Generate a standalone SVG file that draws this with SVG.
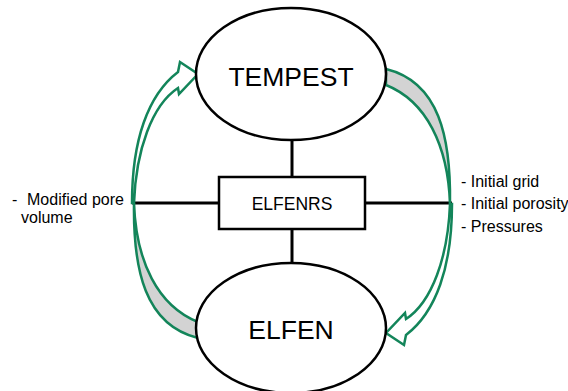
<svg xmlns="http://www.w3.org/2000/svg" width="568" height="391" viewBox="0 0 568 391">
<style>
.node{fill:#fff;stroke:#000;stroke-width:2.5}
.ln{stroke:#000;stroke-width:3;fill:none}
.arr{stroke:#13855a;stroke-width:2.5;stroke-linejoin:miter}
.front{fill:#fff}
.back{fill:#d3d3d3}
text{font-family:"Liberation Sans",Arial,sans-serif;fill:#000}
</style>
<rect width="568" height="391" fill="#fff"/>
<g id="connectors">
<line class="ln" x1="292" y1="140" x2="292" y2="177"/>
<line class="ln" x1="292" y1="229" x2="292" y2="263"/>
<line class="ln" x1="132" y1="203" x2="219" y2="203"/>
<line class="ln" x1="365" y1="203" x2="452" y2="203"/>
</g>
<g id="arrow-left">
<path class="arr back" d="M198,322 C158,306 136,262 134,203 C133,270 145,325 198,338 Z"/>
<path class="arr front" d="M132,203 C132,140 148,95 178,72 L180,62 L198,74 L179,94 L178,88 C152,105 136,150 134,203 Z"/>
</g>
<g id="arrow-right" transform="rotate(180 292 203.5)">
<path class="arr back" d="M198,322 C158,306 136,262 134,203 C133,270 145,325 198,338 Z"/>
<path class="arr front" d="M132,203 C132,140 148,95 178,72 L180,62 L198,74 L179,94 L178,88 C152,105 136,150 134,203 Z"/>
</g>
<g id="tempest">
<ellipse class="node" cx="291" cy="74" rx="95" ry="66"/>
<text x="291" y="86" font-size="26.5" text-anchor="middle">TEMPEST</text>
</g>
<g id="elfen">
<ellipse class="node" cx="291" cy="328" rx="95" ry="65"/>
<text x="291" y="339" font-size="26.5" text-anchor="middle">ELFEN</text>
</g>
<g id="elfenrs">
<rect class="node" x="219" y="177" width="146" height="52" stroke-width="2"/>
<text x="292" y="210" font-size="17.5" text-anchor="middle">ELFENRS</text>
</g>
<g id="labels" font-size="16">
<text x="12" y="205">-</text>
<text x="27" y="205">Modified pore</text>
<text x="21" y="223">volume</text>
<text x="461" y="187">- Initial grid</text>
<text x="461" y="209">- Initial porosity</text>
<text x="461" y="232">- Pressures</text>
</g>
</svg>
